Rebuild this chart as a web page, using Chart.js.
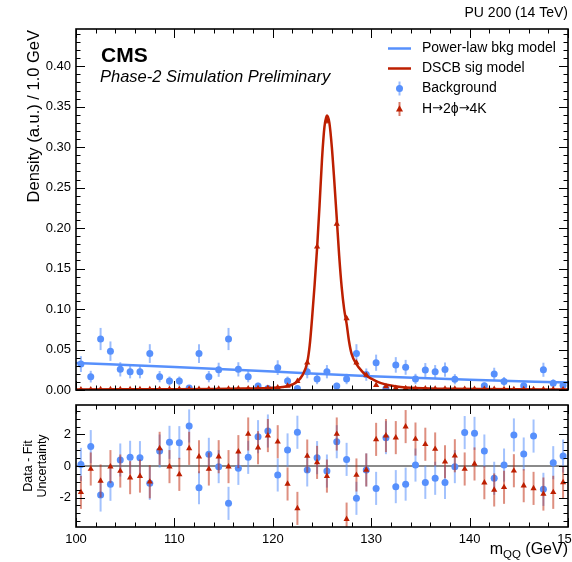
<!DOCTYPE html>
<html>
<head>
<meta charset="utf-8">
<script src="https://cdn.jsdelivr.net/npm/chart.js@4.4.0/dist/chart.umd.min.js"></script>
<style>
  body { margin: 0; background: #fff; }
  #wrap { position: relative; width: 572px; height: 562px; }
  canvas { position: absolute; left: 0; }
  #mainChart { top: 0; }
  #pullChart { top: 395px; }
</style>
</head>
<body>
<div id="wrap">
  <canvas id="mainChart" width="572" height="395" style="width:572px;height:395px"></canvas>
  <canvas id="pullChart" width="572" height="167" style="width:572px;height:167px"></canvas>
</div>
<script>
// bin centres (1 GeV bins)
const massBins = [100.5, 101.5, 102.5, 103.5, 104.5, 105.5, 106.5, 107.5, 108.5, 109.5,
  110.5, 111.5, 112.5, 113.5, 114.5, 115.5, 116.5, 117.5, 118.5, 119.5,
  120.5, 121.5, 122.5, 123.5, 124.5, 125.5, 126.5, 127.5, 128.5, 129.5,
  130.5, 131.5, 132.5, 133.5, 134.5, 135.5, 136.5, 137.5, 138.5, 139.5,
  140.5, 141.5, 142.5, 143.5, 144.5, 145.5, 146.5, 147.5, 148.5, 149.5];

// background sample (blue points)
const bkgDensity = [0.032, 0.0165, 0.063, 0.048, 0.0255, 0.0226, 0.0226, 0.045, 0.0165, 0.011,
  0.011, 0.0025, 0.045, 0.0165, 0.025, 0.063, 0.0255, 0.0165, 0.005, 0.002,
  0.0276, 0.011, 0.002, 0.0226, 0.0136, 0.0226, 0.005, 0.0136, 0.045, 0.019,
  0.0337, 0.002, 0.031, 0.028, 0.0136, 0.0247, 0.0226, 0.0252, 0.0133, null,
  null, 0.0053, 0.0198, 0.0105, null, 0.0053, null, 0.025, 0.0082, 0.0058];
const bkgErr = [0.0098, 0.0072, 0.0137, 0.012, 0.0088, 0.0082, 0.0082, 0.0116, 0.007, 0.0057,
  0.0057, 0.0027, 0.0116, 0.007, 0.0087, 0.0137, 0.0088, 0.007, 0.0039, 0.0026,
  0.0091, 0.0057, 0.0026, 0.0082, 0.0064, 0.0082, 0.0039, 0.0064, 0.0116, 0.0076,
  0.01, 0.0026, 0.0096, 0.0092, 0.0064, 0.0086, 0.0082, 0.0087, 0.0063, null,
  null, 0.004, 0.0077, 0.0056, null, 0.004, null, 0.0087, 0.005, 0.0042];

// signal sample (red triangles)
const sigDensity = [0.0006, 0.0006, 0.0007, 0.0007, 0.0007, 0.0008, 0.0008, 0.0009, 0.0009, 0.001,
  0.001, 0.0011, 0.0011, 0.0012, 0.0013, 0.0014, 0.0016, 0.0018, 0.002, 0.0024,
  0.003, 0.005, 0.011, 0.0337, 0.177, 0.3325, 0.205, 0.0885, 0.0337, 0.0185,
  0.006, 0.0045, 0.0025, 0.002, 0.0018, 0.0016, 0.0015, 0.0014, 0.0013, 0.0012,
  0.0011, 0.001, 0.001, 0.0009, 0.0009, 0.0008, 0.0008, 0.0007, 0.0007, 0.0006];
const sigErr = [0.0004, 0.0004, 0.0004, 0.0004, 0.0004, 0.0004, 0.0004, 0.0004, 0.0004, 0.0004,
  0.0004, 0.0004, 0.0004, 0.0004, 0.0004, 0.0004, 0.0005, 0.0005, 0.0005, 0.0006,
  0.0007, 0.0009, 0.0013, 0.0022, 0.003, 0.0035, 0.003, 0.0025, 0.0018, 0.0013,
  0.0008, 0.0007, 0.0005, 0.0005, 0.0005, 0.0004, 0.0004, 0.0004, 0.0004, 0.0004,
  0.0004, 0.0004, 0.0004, 0.0004, 0.0004, 0.0004, 0.0004, 0.0004, 0.0004, 0.0004];

// fitted models
const bkgModelX = [100, 110, 120, 130, 140, 150];
const bkgModelY = [0.0335, 0.0283, 0.0228, 0.017, 0.0127, 0.0092];
const sigModelX = [100, 105, 110, 114, 117, 119, 120, 121, 121.5, 122,
  122.5, 123, 123.5, 123.75, 124, 124.25, 124.5, 124.75, 125, 125.25,
  125.5, 125.75, 126, 126.25, 126.5, 126.75, 127, 127.25, 127.5, 127.75,
  128, 128.5, 129, 129.5, 130, 130.5, 131, 132, 133, 134,
  136, 138, 141, 145, 150];
const sigModelY = [0.0006, 0.0008, 0.001, 0.0013, 0.0017, 0.0022, 0.0027, 0.0038, 0.0048, 0.0068,
  0.0105, 0.018, 0.034, 0.055, 0.09, 0.13, 0.175, 0.228, 0.285, 0.325,
  0.339, 0.33, 0.30, 0.258, 0.212, 0.165, 0.127, 0.1, 0.082, 0.06,
  0.045, 0.032, 0.024, 0.018, 0.014, 0.011, 0.0085, 0.0055, 0.0038, 0.0028,
  0.0019, 0.0015, 0.0011, 0.0008, 0.0006];

// pulls: (data - fit) / uncertainty
const bkgPull = [0.10, 1.23, -1.84, -1.16, 0.38, 0.55, 0.53, -1.10, 0.95, 1.50,
  1.48, 2.54, -1.38, 0.74, -0.04, -2.37, -0.15, 0.55, 1.86, 2.22,
  -0.57, 1.02, 2.14, -0.25, 0.53, -0.32, 1.54, 0.42, -2.05, -0.25,
  -1.42, 1.80, -1.31, -1.15, 0.06, -1.04, -0.78, -1.04, -0.04, 2.12,
  2.07, 0.95, -0.78, 0.06, 1.97, 0.76, 1.90, -1.48, 0.21, 0.63];
const sigPull = [-1.67, -0.19, -0.95, -0.04, -0.32, -0.74, -0.64, -1.00, 1.12, -0.04,
  -0.53, 1.12, 0.59, -0.19, 0.59, -0.04, 0.91, 2.03, 1.16, 1.93,
  1.54, -1.14, -2.69, 0.63, 0.23, -0.64, 2.03, -3.37, -0.57, -0.25,
  1.69, 1.93, 1.80, 2.50, 1.71, 1.38, 1.08, 0.27, 0.65, -0.19,
  0.13, -1.06, -1.52, -1.35, -0.30, -1.25, -1.42, -1.78, -1.67, -1.04];
const bkgPullErr = 1.05;
const sigPullErr = 1.05;

const densityTicks = [0, 0.05, 0.1, 0.15, 0.2, 0.25, 0.3, 0.35, 0.4];
const pullTicks = [-2, 0, 2];

const FONT = '"Liberation Sans", Arial, Helvetica, sans-serif';
const BLUE = '#5790fc';
const RED = '#bd1f01';
Chart.defaults.font.family = FONT;
Chart.defaults.color = '#000';

const pts = (xs, ys) => xs.map((x, i) => ({ x: x, y: ys[i] }));

// error bars drawn under each point dataset
const errorBars = {
  id: 'errorBars',
  beforeDatasetDraw(chart, args) {
    const ds = chart.data.datasets[args.index];
    if (!ds.errors) return;
    const { ctx, chartArea: a, scales: { x, y } } = chart;
    ctx.save();
    ctx.beginPath();
    ctx.rect(a.left, a.top, a.right - a.left, a.bottom - a.top);
    ctx.clip();
    ctx.strokeStyle = ds.errorColor;
    ctx.lineWidth = 2;
    ds.data.forEach((p, i) => {
      const e = ds.errors[i];
      if (p.y == null || e == null) return;
      const px = x.getPixelForValue(p.x);
      ctx.beginPath();
      ctx.moveTo(px, y.getPixelForValue(p.y - e));
      ctx.lineTo(px, y.getPixelForValue(p.y + e));
      ctx.stroke();
    });
    ctx.restore();
  }
};

// CMS style frame with inward ticks on all sides
const frame = {
  id: 'frame',
  afterDatasetsDraw(chart, args, o) {
    const { ctx, chartArea: a, scales: { x, y } } = chart;
    ctx.save();
    ctx.strokeStyle = '#000';
    ctx.lineWidth = 1;
    const steps = (min, max, step) => {
      const out = [];
      for (let i = Math.ceil(min / step - 1e-9); i <= Math.floor(max / step + 1e-9); i++) out.push(i * step);
      return out;
    };
    const isMajor = (v, m) => Math.abs(v / m - Math.round(v / m)) < 1e-6;
    ctx.beginPath();
    steps(x.min, x.max, o.xMinor).forEach(v => {
      const px = Math.round(x.getPixelForValue(v)) + 0.5;
      const len = isMajor(v, o.xMajor) ? 9 : 4.5;
      ctx.moveTo(px, a.bottom); ctx.lineTo(px, a.bottom - len);
      ctx.moveTo(px, a.top); ctx.lineTo(px, a.top + len);
    });
    steps(y.min, y.max, o.yMinor).forEach(v => {
      const py = Math.round(y.getPixelForValue(v)) + 0.5;
      const len = isMajor(v, o.yMajor) ? 9 : 4.5;
      ctx.moveTo(a.left, py); ctx.lineTo(a.left + len, py);
      ctx.moveTo(a.right, py); ctx.lineTo(a.right - len, py);
    });
    ctx.stroke();
    ctx.lineWidth = 1.6;
    ctx.strokeRect(a.left, a.top, a.right - a.left, a.bottom - a.top);
    ctx.restore();
  }
};

function marker(ctx, style, x, y, r) {
  ctx.beginPath();
  if (style === 'triangle') {
    ctx.moveTo(x, y - r * 1.1);
    ctx.lineTo(x + r, y + r * 0.7);
    ctx.lineTo(x - r, y + r * 0.7);
    ctx.closePath();
  } else {
    ctx.arc(x, y, r, 0, Math.PI * 2);
  }
  ctx.fill();
}

// draw a label piece by piece so the arrows get a font with a full-size arrow glyph
function mixedText(ctx, parts, x, y) {
  parts.forEach(p => {
    ctx.font = p[1];
    ctx.fillText(p[0], x, y);
    x += ctx.measureText(p[0]).width;
  });
}

const mainText = {
  id: 'mainText',
  afterDraw(chart) {
    const { ctx, chartArea: a } = chart;
    ctx.save();
    ctx.fillStyle = '#000';
    ctx.textBaseline = 'middle';
    ctx.textAlign = 'right';
    ctx.font = '14px ' + FONT;
    ctx.fillText('PU 200 (14 TeV)', a.right, 13);
    ctx.textAlign = 'left';
    ctx.font = 'bold 21px ' + FONT;
    ctx.fillText('CMS', 101, 56);
    ctx.font = 'italic 16.5px ' + FONT;
    ctx.fillText('Phase-2 Simulation Preliminary', 100, 77);
    // y title, aligned to the top of the axis
    ctx.save();
    ctx.translate(34, a.top + 1);
    ctx.rotate(-Math.PI / 2);
    ctx.textAlign = 'right';
    ctx.font = '16.5px ' + FONT;
    ctx.fillText('Density (a.u.) / 1.0 GeV', 0, 0);
    ctx.restore();
    // legend
    const rows = [
      { kind: 'line', color: BLUE, label: 'Power-law bkg model' },
      { kind: 'line', color: RED, label: 'DSCB sig model' },
      { kind: 'circle', color: BLUE, err: 'rgba(87,144,252,0.6)', label: 'Background' },
      { kind: 'triangle', color: RED, err: 'rgba(189,31,1,0.6)', label: 'H\u21922\u03d5\u21924K' }
    ];
    const rowY = [48.5, 68.5, 88.5, 109];
    const f = '14px ' + FONT, fa = '13px "DejaVu Sans", sans-serif';
    rows.forEach((r, i) => {
      const yy = rowY[i];
      if (r.kind === 'line') {
        ctx.strokeStyle = r.color;
        ctx.lineWidth = 2.5;
        ctx.beginPath();
        ctx.moveTo(388, yy); ctx.lineTo(411, yy);
        ctx.stroke();
      } else {
        ctx.strokeStyle = r.err;
        ctx.lineWidth = 2;
        ctx.beginPath();
        ctx.moveTo(399.5, yy - 7); ctx.lineTo(399.5, yy + 7);
        ctx.stroke();
        ctx.fillStyle = r.color;
        marker(ctx, r.kind, 399.5, yy, 3.5);
      }
      ctx.fillStyle = '#000';
      if (r.label.indexOf('\u2192') >= 0) {
        const parts = [];
        r.label.split(/(\u2192)/).forEach(s => { if (s) parts.push([s, s === '\u2192' ? fa : f]); });
        mixedText(ctx, parts, 422, yy);
      } else {
        ctx.font = f;
        ctx.fillText(r.label, 422, yy);
      }
    });
    ctx.restore();
  }
};

const pullText = {
  id: 'pullText',
  beforeDatasetsDraw(chart) {
    const { ctx, chartArea: a, scales: { y } } = chart;
    ctx.save();
    ctx.strokeStyle = '#8a8a8a';
    ctx.lineWidth = 2;
    ctx.beginPath();
    ctx.moveTo(a.left, y.getPixelForValue(0));
    ctx.lineTo(a.right, y.getPixelForValue(0));
    ctx.stroke();
    ctx.restore();
  },
  afterDraw(chart) {
    const { ctx, chartArea: a } = chart;
    ctx.save();
    ctx.fillStyle = '#000';
    ctx.textBaseline = 'middle';
    const cy = (a.top + a.bottom) / 2;
    ctx.save();
    ctx.translate(0, cy);
    ctx.rotate(-Math.PI / 2);
    ctx.textAlign = 'center';
    ctx.font = '12.5px ' + FONT;
    ctx.fillText('Data - Fit', 0, 29);
    ctx.fillText('Uncertainty', 0, 43);
    ctx.restore();
    // x title with subscript, right aligned
    ctx.textAlign = 'left';
    ctx.textBaseline = 'alphabetic';
    const big = '16px ' + FONT, small = '11.5px ' + FONT;
    ctx.font = big; const w1 = ctx.measureText('m').width;
    ctx.font = small; const w2 = ctx.measureText('QQ').width;
    ctx.font = big; const w3 = ctx.measureText(' (GeV)').width;
    const x0 = a.right - (w1 + w2 + w3);
    const base = 159;
    ctx.font = big; ctx.fillText('m', x0, base);
    ctx.font = small; ctx.fillText('QQ', x0 + w1, base + 4);
    ctx.font = big; ctx.fillText(' (GeV)', x0 + w1 + w2, base);
    ctx.restore();
  }
};

const fixY = s => { s.width = 76; s.paddingTop = 0; s.paddingBottom = 0; };

new Chart(document.getElementById('mainChart'), {
  type: 'scatter',
  data: {
    datasets: [
      {
        label: 'Power-law bkg model',
        data: pts(bkgModelX, bkgModelY),
        showLine: true, borderColor: BLUE, borderWidth: 2.5,
        pointRadius: 0, cubicInterpolationMode: 'monotone', order: 3
      },
      {
        label: 'DSCB sig model',
        data: pts(sigModelX, sigModelY),
        showLine: true, borderColor: RED, borderWidth: 2.5,
        pointRadius: 0, cubicInterpolationMode: 'monotone', order: 1
      },
      {
        label: 'Background',
        data: pts(massBins, bkgDensity),
        errors: bkgErr, errorColor: 'rgba(87,144,252,0.6)',
        pointStyle: 'circle', pointRadius: 3.5, backgroundColor: BLUE, borderWidth: 0, order: 2
      },
      {
        label: 'H\u21922\u03d5\u21924K',
        data: pts(massBins, sigDensity),
        errors: sigErr, errorColor: 'rgba(189,31,1,0.6)',
        pointStyle: 'triangle', pointRadius: 3.6, backgroundColor: RED, borderWidth: 0, order: 0
      }
    ]
  },
  options: {
    responsive: false,
    animation: false,
    layout: { padding: { left: 0, right: 4, top: 29, bottom: 5 } },
    plugins: {
      legend: { display: false },
      tooltip: { enabled: false },
      frame: { xMajor: 10, xMinor: 2, yMajor: 0.05, yMinor: 0.01 }
    },
    scales: {
      x: { type: 'linear', min: 100, max: 150, display: false },
      y: {
        min: 0, max: 0.446,
        afterFit: fixY,
        afterBuildTicks: s => { s.ticks = densityTicks.map(v => ({ value: v })); },
        grid: { display: false, drawTicks: false },
        border: { display: false },
        ticks: { padding: 5, font: { size: 13 }, callback: v => v.toFixed(2) }
      }
    }
  },
  plugins: [errorBars, frame, mainText]
});

new Chart(document.getElementById('pullChart'), {
  type: 'scatter',
  data: {
    datasets: [
      {
        label: 'Background',
        data: pts(massBins, bkgPull),
        errors: massBins.map(() => bkgPullErr), errorColor: 'rgba(87,144,252,0.55)',
        pointStyle: 'circle', pointRadius: 3.5, backgroundColor: BLUE, borderWidth: 0, order: 1
      },
      {
        label: 'H\u21922\u03d5\u21924K',
        data: pts(massBins, sigPull),
        errors: massBins.map(() => sigPullErr), errorColor: 'rgba(189,31,1,0.5)',
        pointStyle: 'triangle', pointRadius: 3.6, backgroundColor: RED, borderWidth: 0, order: 0
      }
    ]
  },
  options: {
    responsive: false,
    animation: false,
    layout: { padding: { left: 0, right: 4, top: 10, bottom: 0 } },
    plugins: {
      legend: { display: false },
      tooltip: { enabled: false },
      frame: { xMajor: 10, xMinor: 2, yMajor: 2, yMinor: 0.5 }
    },
    scales: {
      x: {
        type: 'linear', min: 100, max: 150,
        afterFit: s => { s.height = 35; s.paddingLeft = 0; s.paddingRight = 0; },
        grid: { display: false, drawTicks: false },
        border: { display: false },
        ticks: { stepSize: 10, padding: 5, font: { size: 13 }, maxRotation: 0 }
      },
      y: {
        min: -3.87, max: 3.87,
        afterFit: fixY,
        afterBuildTicks: s => { s.ticks = pullTicks.map(v => ({ value: v })); },
        grid: { display: false, drawTicks: false },
        border: { display: false },
        ticks: { padding: 5, font: { size: 13 } }
      }
    }
  },
  plugins: [errorBars, frame, pullText]
});
</script>
</body>
</html>
